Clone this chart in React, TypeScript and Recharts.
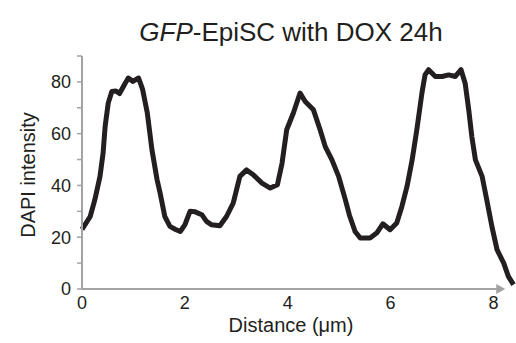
import React from 'react';
import { LineChart, Line, XAxis, YAxis, ReferenceLine, ReferenceDot } from 'recharts';

const distance = [
  0, 0.16, 0.25, 0.35, 0.41, 0.45, 0.51, 0.58, 0.66, 0.73, 0.84, 0.9, 0.99, 1.1, 1.18, 1.27, 1.36, 1.46, 1.52, 1.61,
  1.71, 1.82, 1.91, 2.0, 2.1, 2.2, 2.33, 2.42, 2.52, 2.68, 2.81, 2.94, 3.07, 3.2, 3.33, 3.5, 3.66, 3.8, 3.89, 3.98,
  4.11, 4.24, 4.34, 4.5, 4.63, 4.73, 4.86, 4.99, 5.12, 5.2, 5.31, 5.41, 5.6, 5.73, 5.85, 5.99, 6.12, 6.22, 6.32, 6.42,
  6.51, 6.61, 6.67, 6.74, 6.87, 7.0, 7.13, 7.26, 7.37, 7.45, 7.52, 7.58, 7.65, 7.78, 7.87, 7.97, 8.07, 8.2, 8.29, 8.39,
];

const intensity = [
  23, 28, 34.5, 43.5, 52.5, 62.8, 71.8, 76.3, 76.5, 75.5, 79.5, 81.5, 80.2, 81.5, 77, 68, 53.8, 42.2, 37, 28,
  24.2, 23, 22.2, 24.8, 30, 29.8, 28.7, 26.1, 24.8, 24.4, 28, 33.2, 43.5, 46, 44.1, 40.9, 39, 40.3, 48.6, 61.5,
  68, 75.7, 72.4, 69.2, 61.5, 55, 49.9, 43.5, 34.5, 28.5, 22.2, 19.7, 19.7, 21.6, 25.2, 22.9, 25.5, 31.9, 39.6, 49.9,
  61.5, 75.7, 82.7, 84.7, 82.1, 82.1, 82.7, 82.1, 84.7, 79.5, 69.2, 58.9, 49.9, 43.5, 34.5, 24.2, 15.2, 10, 4.9, 1.7,
];

const xTicks = [0, 2, 4, 6, 8];
const yTicks = [0, 10, 20, 30, 40, 50, 60, 70, 80, 90];
const xAxisEnd = 8.23;

const data = distance.map((d, i) => ({ d, v: intensity[i] }));

const font = '"Liberation Sans", Arial, sans-serif';
const ink = '#231f20';
const axisGray = '#a3a3a3';

const Arrow = (p: any) => (
  <path d={`M${p.cx - 9},${p.cy - 5} L${p.cx},${p.cy} L${p.cx - 9},${p.cy + 5} Z`} fill={axisGray} />
);

export default function App() {
  return (
    <div style={{ position: 'absolute', left: 0, top: 0, width: 516, height: 343, background: '#fff', fontFamily: font }}>
      <LineChart width={516} height={343} data={data} margin={{ top: 56, right: 2, bottom: 24, left: 52 }}>
        <XAxis
          dataKey="d"
          type="number"
          domain={[0, 8.4]}
          ticks={xTicks}
          tickLine={false}
          axisLine={false}
          tickSize={4}
          tickMargin={3}
          height={30}
          tick={{ fill: ink, fontSize: 18, fontFamily: font }}
        />
        <YAxis
          type="number"
          domain={[0, 90]}
          ticks={yTicks}
          interval={0}
          width={30}
          tickSize={5}
          tickMargin={6}
          tickFormatter={(v: number) => (v % 20 === 0 && v <= 80 ? String(v) : '')}
          axisLine={{ stroke: axisGray, strokeWidth: 2 }}
          tickLine={{ stroke: axisGray, strokeWidth: 1.5 }}
          tick={{ fill: ink, fontSize: 18, fontFamily: font }}
        />
        <ReferenceLine
          segment={[{ x: 0, y: 0 }, { x: xAxisEnd - 0.1, y: 0 }]}
          stroke={axisGray}
          strokeWidth={2}
        />
        <ReferenceDot x={xAxisEnd} y={0} shape={Arrow} ifOverflow="visible" />
        <Line
          dataKey="v"
          type="linear"
          stroke={ink}
          strokeWidth={5}
          strokeLinejoin="round"
          dot={false}
          isAnimationActive={false}
        />
      </LineChart>
      <div style={{ position: 'absolute', left: 291, top: 32, transform: 'translate(-50%, -50%)', fontSize: 26, color: ink, whiteSpace: 'nowrap' }}>
        <i>GFP</i>-EpiSC with DOX 24h
      </div>
      <div style={{ position: 'absolute', left: 28, top: 175, transform: 'translate(-50%, -50%)  rotate(-90deg)', fontSize: 20, color: ink, whiteSpace: 'nowrap' }}>
        DAPI intensity
      </div>
      <div style={{ position: 'absolute', left: 291, top: 325, transform: 'translate(-50%, -50%)', fontSize: 20, color: ink, whiteSpace: 'nowrap' }}>
        Distance (μm)
      </div>
    </div>
  );
}
